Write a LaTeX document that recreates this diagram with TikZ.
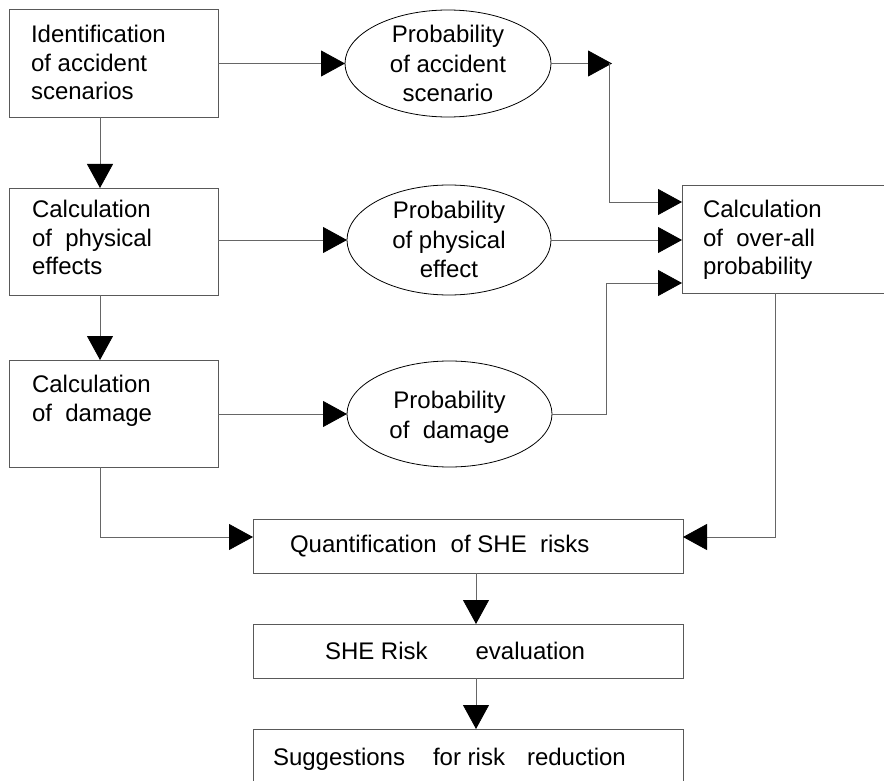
\documentclass[tikz,border=0pt]{standalone}
\usepackage{fontspec}
\setmainfont{Liberation Sans}
\usetikzlibrary{arrows.meta,shapes.geometric}
\begin{document}
\begin{tikzpicture}[x=1pt,y=-1pt,
  boxnode/.style={draw=black!65,line width=0.8pt,rectangle,inner sep=0pt,outer sep=0pt},
  ellnode/.style={draw=black,line width=0.8pt,ellipse,inner sep=0pt,outer sep=0pt},
  conn/.style={draw=black!60,line width=0.8pt},
  arr/.style={conn,-{Triangle[length=24pt,width=26pt,color=black,fill=black]}},
  txtl/.style={inner sep=0pt,outer sep=0pt,anchor=north west,align=left,font=\fontsize{24}{28.5}\selectfont},
  txtc/.style={inner sep=0pt,outer sep=0pt,anchor=north,align=center,font=\fontsize{24}{29.5}\selectfont},
  txtb/.style={inner sep=0pt,outer sep=0pt,anchor=base west,font=\fontsize{24}{28.5}\selectfont}]
\useasboundingbox (0,0) rectangle (884,781);

% shapes
\node[boxnode,minimum width=209pt,minimum height=108pt] (box1) at (113.5,63) {};
\node[boxnode,minimum width=209pt,minimum height=107pt] (box2) at (113.5,241.5) {};
\node[boxnode,minimum width=209pt,minimum height=107pt] (box3) at (113.5,413.5) {};
\node[boxnode,minimum width=208pt,minimum height=108pt] (box4) at (786,239) {};
\node[ellnode,minimum width=206pt,minimum height=107pt] (ell1) at (448,63.5) {};
\node[ellnode,minimum width=204pt,minimum height=110pt] (ell2) at (449,240) {};
\node[ellnode,minimum width=205pt,minimum height=106pt] (ell3) at (449.5,414) {};
\node[boxnode,minimum width=430pt,minimum height=54pt] (quant) at (468,546) {};
\node[boxnode,minimum width=430pt,minimum height=54pt] (she) at (468,651) {};
\node[boxnode,minimum width=430pt,minimum height=61pt] (sugg) at (468,759.5) {};

% texts
\node[txtl] (t1) at (31,23) {\strut Identification\\of accident\\scenarios};
\node[txtl] (t2) at (32,198) {\strut Calculation\\of\ \ physical\\effects};
\node[txtl] (t3) at (32,373) {\strut Calculation\\of\ \ damage};
\node[txtl] (t4) at (703,198) {\strut Calculation\\of\ \ over-all\\probability};
\node[txtc] (t5) at (448,22) {\strut Probability\\of accident\\scenario};
\node[txtc] (t6) at (449,198) {\strut Probability\\of physical\\effect};
\node[txtc] (t7) at (449.5,388) {\strut Probability\\of\ \ damage};
\node[txtb] (t8) at (290,552) {Quantification\hspace{14pt}of SHE\ \ risks};
\node[txtb] (t9) at (325,659) {SHE Risk\hspace{48pt}evaluation};
\node[txtb] (t10) at (273,765) {Suggestions\hspace{28pt}for risk\hspace{22pt}reduction};

% connectors
\coordinate (p1) at (612,63.5);
\coordinate (p1b) at (609,63.5);
\coordinate (p3) at (606,283);

\draw[arr] (ell1.west -| box1.east) -- (ell1.west);
\draw[arr] ([xshift=-13.5pt]box1.south) -- ([xshift=-13.5pt]box2.north);
\draw[arr] (ell2.west -| box2.east) -- (ell2.west);
\draw[arr] ([xshift=-13.5pt]box2.south) -- ([xshift=-13.5pt]box3.north);
\draw[arr] (ell3.west -| box3.east) -- (ell3.west);
\draw[arr] (ell1.east) -- (p1);
\draw[arr] (p1b) |- ([yshift=37pt]box4.west);
\draw[arr] (ell2.east) -- (ell2.east -| box4.west);
\draw[arr] (ell3.east) -| (p3) -- (p3 -| box4.west);
\draw[arr] ([xshift=-11pt]box4.south) |- ([yshift=9pt]quant.east);
\draw[arr] ([xshift=-13.5pt]box3.south) |- ([yshift=9pt]quant.west);
\draw[arr] ([xshift=8pt]quant.south) -- ([xshift=8pt]she.north);
\draw[arr] ([xshift=8pt]she.south) -- ([xshift=8pt]sugg.north);
\end{tikzpicture}
\end{document}
